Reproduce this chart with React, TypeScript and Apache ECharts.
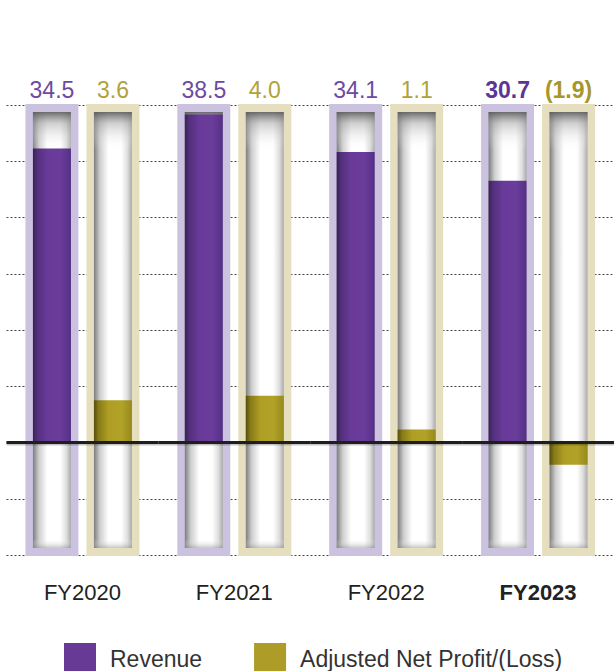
import React, { useEffect, useRef } from 'react';
import * as echarts from 'echarts';

// ---- data ----
const CATEGORIES = ['FY2020', 'FY2021', 'FY2022', 'FY2023'];
const REVENUE = [34.5, 38.5, 34.1, 30.7];
const PROFIT = [3.6, 4.0, 1.1, -1.9];
const HIGHLIGHT = 'FY2023';
const SERIES_NAMES = ['Revenue', 'Adjusted Net Profit/(Loss)'];
const BASELINE = 0;

// axis ranges (revenue axis carries the dotted grid lines)
const REV_MIN = -13.2;
const REV_MAX = 39.6;
const REV_INTERVAL = 6.6;
const PRO_MIN = -9.6;
const PRO_MAX = 28.8;

const FONT = '"Liberation Sans", Arial, sans-serif';
const FRAME_W = 53;
const INNER_W = 38;
const GAP = 8;
const BORDER = 7;

type Palette = {
  frame: string;
  fill: { offset: number; color: string }[];
  label: string;
  labelBold: string;
};

const REV_PALETTE: Palette = {
  frame: '#cbc2e0',
  fill: [
    { offset: 0, color: '#3a2159' },
    { offset: 0.12, color: '#53307c' },
    { offset: 0.38, color: '#693a99' },
    { offset: 0.72, color: '#6b3d9b' },
    { offset: 1, color: '#543086' },
  ],
  label: '#6c4aa3',
  labelBold: '#5e3596',
};

const PRO_PALETTE: Palette = {
  frame: '#e6dfbf',
  fill: [
    { offset: 0, color: '#574d0d' },
    { offset: 0.12, color: '#877a19' },
    { offset: 0.38, color: '#ae9e24' },
    { offset: 0.72, color: '#b2a227' },
    { offset: 1, color: '#958a1e' },
  ],
  label: '#b2a236',
  labelBold: '#a8962a',
};

const fmt = (v: number) => (v < 0 ? `(${Math.abs(v).toFixed(1)})` : v.toFixed(1));

function makeRender(side: number, axisMin: number, axisMax: number, pal: Palette) {
  return (params: any, api: any) => {
    const idx = api.value(0);
    const val = api.value(1);
    const zero = api.coord([idx, 0]);
    const cx = zero[0] + side * (FRAME_W + GAP) / 2;
    const zeroY = zero[1];
    const topY = api.coord([idx, axisMax])[1];
    const botY = api.coord([idx, axisMin])[1];
    const valY = api.coord([idx, val])[1];
    const innerX = cx - INNER_W / 2;
    const innerTop = topY + BORDER;
    const innerH = botY - topY - BORDER * 2;
    const bold = CATEGORIES[idx] === HIGHLIGHT;
    return {
      type: 'group',
      children: [
        {
          type: 'rect',
          shape: { x: cx - FRAME_W / 2, y: topY - 1, width: FRAME_W, height: botY - topY + 2 },
          style: { fill: pal.frame },
        },
        {
          type: 'rect',
          shape: { x: innerX, y: innerTop, width: INNER_W, height: innerH },
          style: {
            fill: new echarts.graphic.LinearGradient(0, 0, 1, 0, [
              { offset: 0, color: '#7c7c7c' },
              { offset: 0.16, color: '#cfcfcf' },
              { offset: 0.38, color: '#ffffff' },
              { offset: 0.72, color: '#ffffff' },
              { offset: 0.88, color: '#dedede' },
              { offset: 1, color: '#aaaaaa' },
            ]),
          },
        },
        {
          type: 'rect',
          shape: { x: innerX, y: innerTop, width: INNER_W, height: 38 },
          style: {
            fill: new echarts.graphic.LinearGradient(0, 0, 0, 1, [
              { offset: 0, color: 'rgba(90,90,90,0.9)' },
              { offset: 0.3, color: 'rgba(160,160,160,0.5)' },
              { offset: 1, color: 'rgba(255,255,255,0)' },
            ]),
          },
        },
        {
          type: 'rect',
          shape: { x: innerX, y: innerTop + innerH - 9, width: INNER_W, height: 9 },
          style: {
            fill: new echarts.graphic.LinearGradient(0, 0, 0, 1, [
              { offset: 0, color: 'rgba(255,255,255,0)' },
              { offset: 1, color: 'rgba(140,140,140,0.5)' },
            ]),
          },
        },
        {
          type: 'rect',
          shape: {
            x: innerX,
            y: Math.min(valY, zeroY),
            width: INNER_W,
            height: Math.abs(valY - zeroY),
          },
          style: { fill: new echarts.graphic.LinearGradient(0, 0, 1, 0, pal.fill) },
        },
        {
          type: 'text',
          x: cx,
          y: topY - 15,
          style: {
            text: fmt(val),
            fill: bold ? pal.labelBold : pal.label,
            fontFamily: FONT,
            fontSize: 23,
            fontWeight: bold ? 'bold' : 'normal',
            align: 'center',
            verticalAlign: 'middle',
            textAlign: 'center',
            textVerticalAlign: 'middle',
          },
        },
      ],
    };
  };
}

// zero line, drawn band by band on top of the bars
function renderBaseline(params: any, api: any) {
  const idx = api.value(0);
  const p = api.coord([idx, api.value(1)]);
  const band = api.size([1, 0])[0];
  return {
    type: 'group',
    children: [
      {
        type: 'rect',
        shape: { x: p[0] - band / 2, y: p[1] + 1, width: band, height: 2 },
        style: { fill: 'rgba(0,0,0,0.22)' },
      },
      {
        type: 'rect',
        shape: { x: p[0] - band / 2, y: p[1] - 1.5, width: band, height: 3 },
        style: { fill: '#1e1e1e' },
      },
    ],
  };
}

export default function App() {
  const ref = useRef<HTMLDivElement>(null);
  useEffect(() => {
    document.body.style.margin = '0';
    if (!ref.current) return;
    const chart = echarts.init(ref.current, undefined, { renderer: 'svg' });
    const option: any = {
      animation: false,
      backgroundColor: '#ffffff',
      grid: { left: 6.5, top: 105, width: 612, height: 450, containLabel: false },
      legend: {
        data: SERIES_NAMES,
        left: 64,
        top: 643,
        padding: 0,
        icon: 'rect',
        itemWidth: 32,
        itemHeight: 32,
        itemGap: 52,
        textStyle: {
          fontFamily: FONT,
          fontSize: 23,
          color: '#333333',
          padding: [0, 0, 0, 9],
        },
      },
      xAxis: {
        type: 'category',
        data: CATEGORIES,
        position: 'bottom',
        axisLine: { show: false, onZero: false },
        axisTick: { show: false },
        axisLabel: {
          margin: 26,
          fontFamily: FONT,
          fontSize: 22,
          color: '#222222',
          formatter: (v: string) => (v === HIGHLIGHT ? `{b|${v}}` : `{n|${v}}`),
          rich: {
            b: { fontFamily: FONT, fontSize: 22, fontWeight: 'bold', color: '#222222' },
            n: { fontFamily: FONT, fontSize: 22, color: '#222222' },
          },
        },
        splitLine: { show: false },
      },
      yAxis: [
        {
          type: 'value',
          min: REV_MIN,
          max: REV_MAX,
          interval: REV_INTERVAL,
          axisLine: { show: false },
          axisTick: { show: false },
          axisLabel: { show: false },
          splitLine: { show: true, lineStyle: { color: '#444444', width: 1, type: [2, 2] } },
        },
        {
          type: 'value',
          min: PRO_MIN,
          max: PRO_MAX,
          axisLine: { show: false },
          axisTick: { show: false },
          axisLabel: { show: false },
          splitLine: { show: false },
        },
      ],
      series: [
        {
          name: SERIES_NAMES[0],
          type: 'custom',
          xAxisIndex: 0,
          yAxisIndex: 0,
          clip: false,
          itemStyle: { color: '#673a96' },
          renderItem: makeRender(-1, REV_MIN, REV_MAX, REV_PALETTE),
          data: REVENUE.map((v, i) => [i, v]),
          encode: { x: 0, y: 1 },
        },
        {
          name: SERIES_NAMES[1],
          type: 'custom',
          xAxisIndex: 0,
          yAxisIndex: 1,
          clip: false,
          itemStyle: { color: '#ad9c27' },
          renderItem: makeRender(1, PRO_MIN, PRO_MAX, PRO_PALETTE),
          data: PROFIT.map((v, i) => [i, v]),
          encode: { x: 0, y: 1 },
        },
        {
          name: 'baseline',
          type: 'custom',
          xAxisIndex: 0,
          yAxisIndex: 0,
          z: 5,
          clip: false,
          silent: true,
          renderItem: renderBaseline,
          data: CATEGORIES.map((_, i) => [i, BASELINE]),
          encode: { x: 0, y: 1 },
        },
      ],
    };
    chart.setOption(option);
    return () => chart.dispose();
  }, []);
  return <div ref={ref} style={{ width: 614, height: 671 }} />;
}
